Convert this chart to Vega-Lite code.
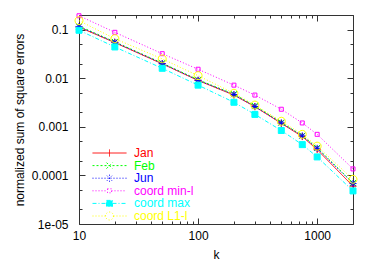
{
  "$schema": "https://vega.github.io/schema/vega-lite/v6.json",
  "autosize": "none",
  "width": 274,
  "height": 209,
  "padding": {"left": 79, "top": 15, "right": 21, "bottom": 38},
  "config": {
    "view": {"stroke": "#333333", "strokeWidth": 1},
    "font": "Liberation Sans",
    "axis": {"labelFont": "Liberation Sans", "titleFont": "Liberation Sans", "labelFontSize": 12, "titleFontSize": 12, "titleFontWeight": "normal", "labelColor": "#000000", "titleColor": "#000000", "tickColor": "#333333", "tickWidth": 1, "domain": false, "grid": false, "labelFlush": false}
  },
  "data": {"values": [
    {"series": "Jan", "k": 10, "v": 0.113}, {"series": "Jan", "k": 20, "v": 0.054}, {"series": "Jan", "k": 50, "v": 0.0198}, {"series": "Jan", "k": 100, "v": 0.009}, {"series": "Jan", "k": 200, "v": 0.0045}, {"series": "Jan", "k": 300, "v": 0.0026}, {"series": "Jan", "k": 500, "v": 0.00118}, {"series": "Jan", "k": 750, "v": 0.00063}, {"series": "Jan", "k": 1000, "v": 0.00034}, {"series": "Jan", "k": 2000, "v": 0.00006},
    {"series": "Feb", "k": 10, "v": 0.118}, {"series": "Feb", "k": 20, "v": 0.056}, {"series": "Feb", "k": 50, "v": 0.0205}, {"series": "Feb", "k": 100, "v": 0.0093}, {"series": "Feb", "k": 200, "v": 0.0047}, {"series": "Feb", "k": 300, "v": 0.0027}, {"series": "Feb", "k": 500, "v": 0.00123}, {"series": "Feb", "k": 750, "v": 0.00066}, {"series": "Feb", "k": 1000, "v": 0.00037}, {"series": "Feb", "k": 2000, "v": 0.00007},
    {"series": "Jun", "k": 10, "v": 0.115}, {"series": "Jun", "k": 20, "v": 0.055}, {"series": "Jun", "k": 50, "v": 0.02}, {"series": "Jun", "k": 100, "v": 0.0091}, {"series": "Jun", "k": 200, "v": 0.0046}, {"series": "Jun", "k": 300, "v": 0.0026}, {"series": "Jun", "k": 500, "v": 0.0012}, {"series": "Jun", "k": 750, "v": 0.00065}, {"series": "Jun", "k": 1000, "v": 0.00036}, {"series": "Jun", "k": 2000, "v": 0.000068},
    {"series": "coord min-l", "k": 10, "v": 0.193}, {"series": "coord min-l", "k": 20, "v": 0.088}, {"series": "coord min-l", "k": 50, "v": 0.032}, {"series": "coord min-l", "k": 100, "v": 0.0153}, {"series": "coord min-l", "k": 200, "v": 0.0072}, {"series": "coord min-l", "k": 300, "v": 0.0045}, {"series": "coord min-l", "k": 500, "v": 0.0023}, {"series": "coord min-l", "k": 750, "v": 0.0012}, {"series": "coord min-l", "k": 1000, "v": 0.0007}, {"series": "coord min-l", "k": 2000, "v": 0.000136},
    {"series": "coord max", "k": 10, "v": 0.097}, {"series": "coord max", "k": 20, "v": 0.044}, {"series": "coord max", "k": 50, "v": 0.016}, {"series": "coord max", "k": 100, "v": 0.0072}, {"series": "coord max", "k": 200, "v": 0.0032}, {"series": "coord max", "k": 300, "v": 0.0018}, {"series": "coord max", "k": 500, "v": 0.00084}, {"series": "coord max", "k": 750, "v": 0.00043}, {"series": "coord max", "k": 1000, "v": 0.00024}, {"series": "coord max", "k": 2000, "v": 0.000048},
    {"series": "coord L1-l", "k": 10, "v": 0.153}, {"series": "coord L1-l", "k": 20, "v": 0.065}, {"series": "coord L1-l", "k": 50, "v": 0.025}, {"series": "coord L1-l", "k": 100, "v": 0.0113}, {"series": "coord L1-l", "k": 200, "v": 0.0049}, {"series": "coord L1-l", "k": 300, "v": 0.0028}, {"series": "coord L1-l", "k": 500, "v": 0.0013}, {"series": "coord L1-l", "k": 750, "v": 0.0007}, {"series": "coord L1-l", "k": 1000, "v": 0.0004}, {"series": "coord L1-l", "k": 2000, "v": 0.000083}
  ]},
  "resolve": {"axis": {"x": "independent", "y": "independent"}},
  "layer": [
    {
      "mark": {"type": "line", "strokeWidth": 1, "clip": true},
      "encoding": {
        "x": {"field": "k", "type": "quantitative",
          "scale": {"type": "log", "domain": [10, 2000], "nice": false},
          "axis": {"orient": "bottom", "title": "k", "titlePadding": 8,
            "values": [10,20,30,40,50,60,70,80,90,100,200,300,400,500,600,700,800,900,1000,2000],
            "tickSize": {"condition": {"test": "datum.value==10||datum.value==100||datum.value==1000", "value": -6}, "value": -3},
            "labelPadding": 12,
            "labelExpr": "(datum.value==10||datum.value==100||datum.value==1000) ? datum.label : ''",
            "format": "d"}},
        "y": {"field": "v", "type": "quantitative",
          "scale": {"type": "log", "domain": [0.00001, 0.2], "nice": false},
          "axis": {"orient": "left", "title": "normalized sum of square errors", "titlePadding": 5,
            "values": [0.00001,0.00002,0.00005,0.0001,0.0002,0.0005,0.001,0.002,0.005,0.01,0.02,0.05,0.1,0.2],
            "tickSize": {"condition": {"test": "datum.value==0.1||datum.value==0.01||datum.value==0.001||datum.value==0.0001||datum.value==0.00001", "value": -6}, "value": -3},
            "labelPadding": 17,
            "labelExpr": "datum.value==0.1 ? '0.1' : datum.value==0.01 ? '0.01' : datum.value==0.001 ? '0.001' : datum.value==0.0001 ? '0.0001' : datum.value==0.00001 ? '1e-05' : ''"}},
        "color": {"field": "series", "type": "nominal",
          "scale": {"domain": ["Jan", "Feb", "Jun", "coord min-l", "coord max", "coord L1-l"], "range": ["#ff0000", "#00ff00", "#0000ff", "#ff00ff", "#00ffff", "#ffff00"]},
          "legend": {"title": null, "orient": "none", "legendX": 18.5, "legendY": 132, "padding": 0,
            "symbolSize": 4, "symbolStrokeWidth": 1, "rowPadding": 0.6,
            "symbolOffset": 6, "labelOffset": 18.5,
            "labelFont": "Liberation Sans", "labelFontSize": 12,
            "encode": {
              "labels": {"update": {"fill": {"scale": "color", "field": "value"}}}
            }}},
        "strokeDash": {"field": "series", "type": "nominal", "legend": null,
          "scale": {"domain": ["Jan", "Feb", "Jun", "coord min-l", "coord max", "coord L1-l"], "range": [[1, 0], [2, 2], [1, 2], [1, 2], [4, 2, 1, 2], [1, 2]]}}
      }
    },
    {
      "transform": [{"filter": "datum.k < 0"}],
      "mark": {"type": "point", "strokeWidth": 1, "opacity": 1, "size": 4, "clip": false},
      "encoding": {
        "x": {"field": "k", "type": "quantitative",
          "axis": {"orient": "top", "title": null, "labels": false,
            "values": [10,20,30,40,50,60,70,80,90,100,200,300,400,500,600,700,800,900,1000,2000],
            "tickSize": {"condition": {"test": "datum.value==10||datum.value==100||datum.value==1000", "value": -6}, "value": -3}}},
        "y": {"field": "v", "type": "quantitative",
          "axis": {"orient": "right", "title": null, "labels": false,
            "values": [0.00001,0.00002,0.00005,0.0001,0.0002,0.0005,0.001,0.002,0.005,0.01,0.02,0.05,0.1,0.2],
            "tickSize": {"condition": {"test": "datum.value==0.1||datum.value==0.01||datum.value==0.001||datum.value==0.0001||datum.value==0.00001", "value": -6}, "value": -3}}},
        "stroke": {"field": "series", "type": "nominal", "legend": null,
          "scale": {"domain": ["Jan", "Feb", "Jun", "coord min-l", "coord max", "coord L1-l"], "range": ["#ff0000", "#00ff00", "#0000ff", "#ff00ff", "#00ffff", "#ffff00"]}},
        "fill": {"field": "series", "type": "nominal", "legend": null,
          "scale": {"domain": ["Jan", "Feb", "Jun", "coord min-l", "coord max", "coord L1-l"], "range": ["transparent", "transparent", "transparent", "transparent", "#00ffff", "transparent"]}},
        "shape": {"field": "series", "type": "nominal", "legend": null,
          "scale": {"domain": ["Jan", "Feb", "Jun", "coord min-l", "coord max", "coord L1-l"], "range": ["M-17,0H17M0,-3.5V3.5", "M-17,0H17M-3,-3L3,3M-3,3L3,-3", "M-17,0H17M0,-3.5V3.5M-2.5,-2.5L2.5,2.5M-2.5,2.5L2.5,-2.5", "M-17,0H-2M2,0H17M-2,-2H2V2H-2Z", "M-17,0H-3M3,0H17M-3,-3H3V3H-3Z", "M-17,0H-4M4,0H17M4,0A4,4,0,1,1,-4,0A4,4,0,1,1,4,0Z"]}}
      }
    },
    {
      "transform": [{"filter": "datum.series==='Jan'"}],
      "mark": {"type": "point", "shape": "M-3.5,0H3.5M0,-3.5V3.5", "size": 4, "filled": false, "stroke": "#ff0000", "strokeWidth": 1, "opacity": 1},
      "encoding": {"x": {"field": "k", "type": "quantitative", "axis": null}, "y": {"field": "v", "type": "quantitative", "axis": null}}
    },
    {
      "transform": [{"filter": "datum.series==='Feb'"}],
      "mark": {"type": "point", "shape": "M-3,-3L3,3M-3,3L3,-3", "size": 4, "filled": false, "stroke": "#00ff00", "strokeWidth": 1, "opacity": 1},
      "encoding": {"x": {"field": "k", "type": "quantitative", "axis": null}, "y": {"field": "v", "type": "quantitative", "axis": null}}
    },
    {
      "transform": [{"filter": "datum.series==='Jun'"}],
      "mark": {"type": "point", "shape": "M-3.5,0H3.5M0,-3.5V3.5M-2.5,-2.5L2.5,2.5M-2.5,2.5L2.5,-2.5", "size": 4, "filled": false, "stroke": "#0000ff", "strokeWidth": 1, "opacity": 1},
      "encoding": {"x": {"field": "k", "type": "quantitative", "axis": null}, "y": {"field": "v", "type": "quantitative", "axis": null}}
    },
    {
      "transform": [{"filter": "datum.series==='coord min-l'"}],
      "mark": {"type": "point", "shape": "M-2,-2H2V2H-2Z", "size": 4, "filled": false, "stroke": "#ff00ff", "strokeWidth": 1, "opacity": 1},
      "encoding": {"x": {"field": "k", "type": "quantitative", "axis": null}, "y": {"field": "v", "type": "quantitative", "axis": null}}
    },
    {
      "transform": [{"filter": "datum.series==='coord max'"}],
      "mark": {"type": "point", "shape": "M-3,-3H3V3H-3Z", "size": 4, "filled": true, "fill": "#00ffff", "stroke": "#00ffff", "strokeWidth": 1, "opacity": 1},
      "encoding": {"x": {"field": "k", "type": "quantitative", "axis": null}, "y": {"field": "v", "type": "quantitative", "axis": null}}
    },
    {
      "transform": [{"filter": "datum.series==='coord L1-l'"}],
      "mark": {"type": "point", "shape": "M4,0A4,4,0,1,1,-4,0A4,4,0,1,1,4,0Z", "size": 4, "filled": false, "stroke": "#ffff00", "strokeWidth": 1, "opacity": 1},
      "encoding": {"x": {"field": "k", "type": "quantitative", "axis": null}, "y": {"field": "v", "type": "quantitative", "axis": null}}
    }
  ]
}
